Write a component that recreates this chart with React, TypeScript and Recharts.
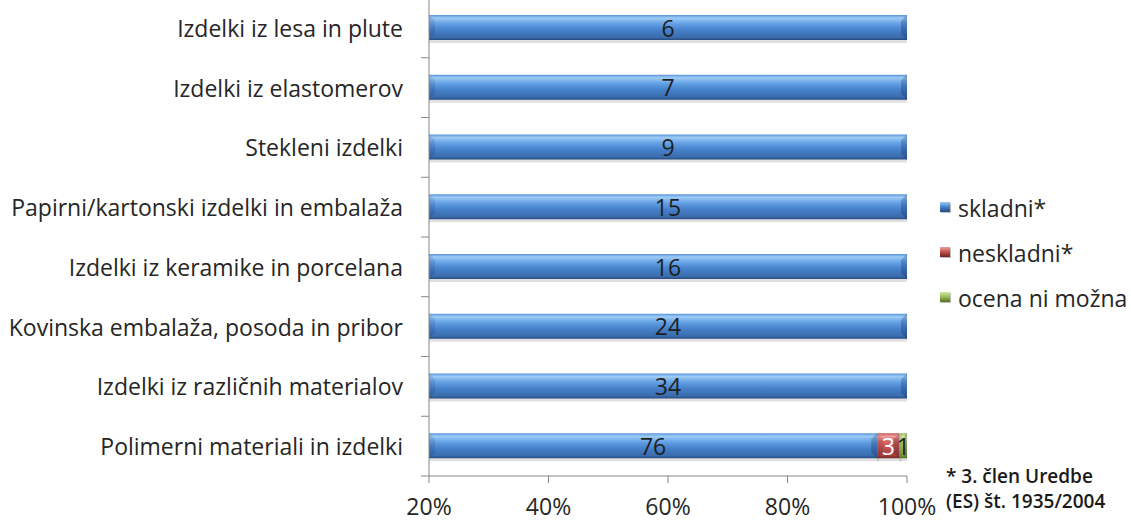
import React from 'react'
import { BarChart, Bar, XAxis, YAxis, LabelList } from 'recharts'

const categories = [
  'Izdelki iz lesa in plute',
  'Izdelki iz elastomerov',
  'Stekleni izdelki',
  'Papirni/kartonski izdelki in embalaža',
  'Izdelki iz keramike in porcelana',
  'Kovinska embalaža, posoda in pribor',
  'Izdelki iz različnih materialov',
  'Polimerni materiali in izdelki',
]
const skladni = [6, 7, 9, 15, 16, 24, 34, 76]
const neskladni = [0, 0, 0, 0, 0, 0, 0, 3]
const ocena = [0, 0, 0, 0, 0, 0, 0, 1]
const seriesNames = ['skladni*', 'neskladni*', 'ocena ni možna']
const xTicks = [20, 40, 60, 80, 100]
const footnote = ['* 3. člen Uredbe', '(ES) št. 1935/2004']

// 100% stacked: share of each row total
const data = categories.map((name, i) => {
  const total = skladni[i] + neskladni[i] + ocena[i]
  return {
    name,
    skladni: skladni[i],
    neskladni: neskladni[i],
    ocena: ocena[i],
    pSkladni: (skladni[i] / total) * 100,
    pNeskladni: (neskladni[i] / total) * 100,
    pOcena: (ocena[i] / total) * 100,
  }
})

const W = 1131
const H = 521
const AXIS_X = 429
const PLOT_RIGHT = 907
const PLOT_TOP = -2
const AXIS_Y = 476
const BAND = (AXIS_Y - PLOT_TOP) / categories.length
const FONT = '"Open Sans", Lato, sans-serif'
const AXIS_COLOR = '#868686'
const TEXT = '#262626'

const colors = [
  { id: 'gBlue', stops: ['#5a94da', '#9ccbf6', '#63a0e4', '#4681cb', '#3a6cab', '#254a80'] },
  { id: 'gRed', stops: ['#c65450', '#eea09d', '#d9625e', '#c0504d', '#a33e3b', '#6e2321'] },
  { id: 'gGreen', stops: ['#98b856', '#d2e7a1', '#acca6c', '#9bbb59', '#7d9a40', '#526b23'] },
]

function makeShape(gid: string) {
  return (props: any) => {
    const { x, y, width, height } = props
    if (!width || width <= 0) return <g />
    const left = Math.max(x, AXIS_X)
    const right = x + width
    const b = Math.min(6, (right - left) / 3)
    return (
      <g>
        <rect x={left} y={y + 2} width={right - left + 2} height={height + 1} fill="rgba(0,0,0,0.12)" />
        <rect x={x} y={y} width={width} height={height} fill={`url(#${gid})`} />
        <polygon
          points={`${left},${y} ${left + b},${y + b} ${left + b},${y + height - b} ${left},${y + height}`}
          fill="rgba(0,0,40,0.1)"
        />
        <polygon
          points={`${right - b},${y + b} ${right},${y} ${right},${y + height} ${right - b},${y + height - b}`}
          fill="rgba(0,0,40,0.2)"
        />
      </g>
    )
  }
}

function makeLabel(color: string) {
  return (props: any) => {
    const { x, y, width, height, value } = props
    if (!value) return null
    const left = Math.max(x, AXIS_X)
    const cx = (left + x + width) / 2
    return (
      <text
        x={cx}
        y={y + height / 2}
        textAnchor="middle"
        dominantBaseline="central"
        fontFamily={FONT}
        fontSize={23}
        fill={color}
      >
        {value}
      </text>
    )
  }
}

function CategoryTick(props: any) {
  const { y, payload, index } = props
  const last = index === categories.length - 1
  return (
    <g>
      <text
        x={AXIS_X - 26}
        y={y}
        textAnchor="end"
        dominantBaseline="central"
        fontFamily={FONT}
        fontSize={23}
        fill={TEXT}
      >
        {payload.value}
      </text>
      {index > 0 && (
        <line x1={AXIS_X - 8} x2={AXIS_X} y1={y - BAND / 2} y2={y - BAND / 2} stroke={AXIS_COLOR} />
      )}
      {last && (
        <line x1={AXIS_X - 8} x2={AXIS_X} y1={y + BAND / 2} y2={y + BAND / 2} stroke={AXIS_COLOR} />
      )}
    </g>
  )
}

function LegendIcon({ c }: { c: (typeof colors)[number] }) {
  return (
    <svg width={12} height={12} style={{ marginRight: 6, flexShrink: 0 }}>
      <defs>
        <linearGradient id={`lg-${c.id}`} x1="0" y1="0" x2="0" y2="1">
          <stop offset="0" stopColor={c.stops[1]} />
          <stop offset="0.5" stopColor={c.stops[3]} />
          <stop offset="1" stopColor={c.stops[5]} />
        </linearGradient>
      </defs>
      <rect x={1} y={1} width={10} height={10} fill="rgba(0,0,0,0.25)" />
      <rect x={0} y={0} width={10} height={10} fill={`url(#lg-${c.id})`} />
    </svg>
  )
}

export default function App() {
  return (
    <div style={{ position: 'absolute', left: 0, top: 0, width: W, height: H, background: '#fff' }}>
      <BarChart
        width={W}
        height={H}
        data={data}
        layout="vertical"
        barCategoryGap={0}
        margin={{ top: PLOT_TOP, right: W - PLOT_RIGHT, bottom: 0, left: 0 }}
      >
        <defs>
          {colors.map((c) => (
            <linearGradient key={c.id} id={c.id} x1="0" y1="0" x2="0" y2="1">
              <stop offset="0" stopColor={c.stops[0]} />
              <stop offset="0.12" stopColor={c.stops[1]} />
              <stop offset="0.35" stopColor={c.stops[2]} />
              <stop offset="0.6" stopColor={c.stops[3]} />
              <stop offset="0.9" stopColor={c.stops[4]} />
              <stop offset="1" stopColor={c.stops[5]} />
            </linearGradient>
          ))}
        </defs>
        <XAxis
          type="number"
          domain={[20, 100]}
          allowDataOverflow
          ticks={xTicks}
          tickFormatter={(v: number) => `${v}%`}
          height={H - AXIS_Y}
          stroke={AXIS_COLOR}
          tickSize={7}
          tickMargin={16}
          tick={{ fill: TEXT, fontSize: 23, fontFamily: FONT }}
          interval={0}
        />
        <YAxis
          type="category"
          dataKey="name"
          width={AXIS_X}
          stroke={AXIS_COLOR}
          tickLine={false}
          tick={<CategoryTick />}
          interval={0}
        />
        <Bar dataKey="pSkladni" stackId="a" barSize={25} isAnimationActive={false} shape={makeShape('gBlue')}>
          <LabelList dataKey="skladni" content={makeLabel('#1f1f1f')} />
        </Bar>
        <Bar dataKey="pNeskladni" stackId="a" barSize={25} isAnimationActive={false} shape={makeShape('gRed')}>
          <LabelList dataKey="neskladni" content={makeLabel('#ffffff')} />
        </Bar>
        <Bar dataKey="pOcena" stackId="a" barSize={25} isAnimationActive={false} shape={makeShape('gGreen')}>
          <LabelList dataKey="ocena" content={makeLabel('#1f1f1f')} />
        </Bar>
      </BarChart>
      <div style={{ position: 'absolute', left: 940, top: 193, fontFamily: FONT, fontSize: 23, color: TEXT }}>
        {seriesNames.map((n, i) => (
          <div key={n} style={{ display: 'flex', alignItems: 'center', height: 30, marginBottom: 15 }}>
            <LegendIcon c={colors[i]} />
            {n}
          </div>
        ))}
      </div>
      <div
        style={{
          position: 'absolute',
          left: 946,
          top: 464,
          fontFamily: FONT,
          fontSize: 19,
          fontWeight: 600,
          lineHeight: '25px',
          color: '#1a1a1a',
        }}
      >
        {footnote.map((t) => (
          <div key={t}>{t}</div>
        ))}
      </div>
    </div>
  )
}
